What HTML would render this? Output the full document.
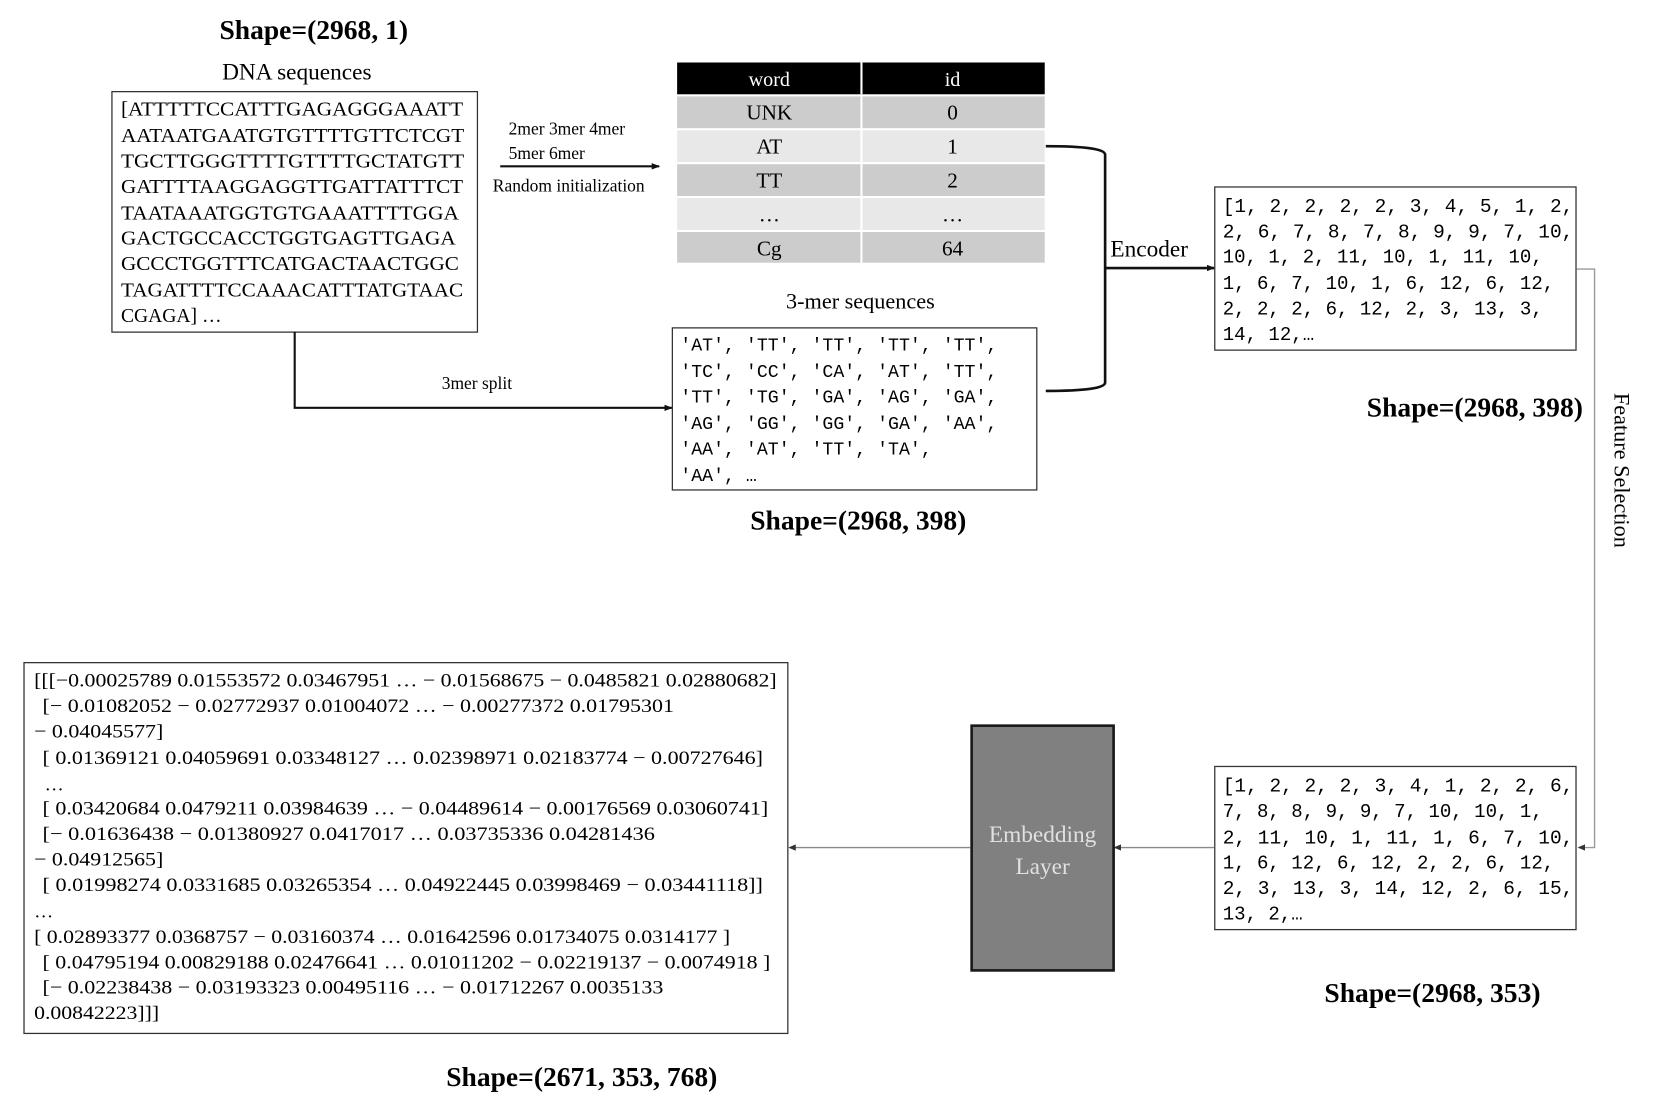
<!DOCTYPE html>
<html><head><meta charset="utf-8"><style>
html,body{margin:0;padding:0;background:#fff;}
svg{display:block;}
.s{font-family:"Liberation Serif",serif;}
.m{font-family:"Liberation Mono",monospace;}
</style></head><body>
<svg width="1653" height="1106" viewBox="0 0 1560 1044" xmlns="http://www.w3.org/2000/svg">
<defs>
<marker id="ah" markerWidth="8" markerHeight="8" refX="7" refY="4" orient="auto" markerUnits="userSpaceOnUse"><path d="M0,1 L8,4 L0,7 z" fill="#111"/></marker>
<marker id="ag" markerWidth="7" markerHeight="7" refX="6" refY="3.5" orient="auto" markerUnits="userSpaceOnUse"><path d="M0,0.5 L7,3.5 L0,6.5 z" fill="#333"/></marker>
</defs>
<rect width="1560" height="1044" fill="#fff"/>

<!-- top-left -->
<text class="s" x="296" y="37" font-size="26" font-weight="bold" text-anchor="middle">Shape=(2968, 1)</text>
<text class="s" x="280" y="75" font-size="22" text-anchor="middle">DNA sequences</text>
<rect x="105.5" y="86.5" width="345" height="227" fill="#fff" stroke="#333" stroke-width="1.2"/>
<g class="s" font-size="18.5">
<text x="114" y="109" textLength="323" lengthAdjust="spacingAndGlyphs">[ATTTTTCCATTTGAGAGGGAAATT</text>
<text x="114" y="134" textLength="324" lengthAdjust="spacingAndGlyphs">AATAATGAATGTGTTTTGTTCTCGT</text>
<text x="114" y="158" textLength="324" lengthAdjust="spacingAndGlyphs">TGCTTGGGTTTTGTTTTGCTATGTT</text>
<text x="114" y="182" textLength="323" lengthAdjust="spacingAndGlyphs">GATTTTAAGGAGGTTGATTATTTCT</text>
<text x="114" y="207" textLength="319" lengthAdjust="spacingAndGlyphs">TAATAAATGGTGTGAAATTTTGGA</text>
<text x="114" y="231" textLength="316" lengthAdjust="spacingAndGlyphs">GACTGCCACCTGGTGAGTTGAGA</text>
<text x="114" y="255" textLength="319" lengthAdjust="spacingAndGlyphs">GCCCTGGTTTCATGACTAACTGGC</text>
<text x="114" y="280" textLength="323" lengthAdjust="spacingAndGlyphs">TAGATTTTCCAAACATTTATGTAAC</text>
<text x="114" y="304">CGAGA] …</text>
</g>

<!-- kmer arrow -->
<g class="s" font-size="16.5">
<text x="480" y="127">2mer 3mer 4mer</text>
<text x="480" y="150">5mer 6mer</text>
<text x="465" y="181">Random initialization</text>
</g>
<line x1="472" y1="157" x2="622" y2="157" stroke="#111" stroke-width="2" marker-end="url(#ah)"/>

<!-- table -->
<rect x="639" y="59" width="347" height="30" fill="#000"/>
<line x1="813" y1="59" x2="813" y2="89" stroke="#fff" stroke-width="2"/>
<text class="s" x="726" y="81" font-size="19" fill="#fff" text-anchor="middle">word</text>
<text class="s" x="899" y="81" font-size="19" fill="#fff" text-anchor="middle">id</text>
<rect x="639" y="91" width="347" height="30" fill="#cccccc"/>
<rect x="639" y="123" width="347" height="30" fill="#e8e8e8"/>
<rect x="639" y="155" width="347" height="30" fill="#cccccc"/>
<rect x="639" y="187" width="347" height="30" fill="#e8e8e8"/>
<rect x="639" y="219" width="347" height="29" fill="#cccccc"/>
<line x1="813" y1="91" x2="813" y2="248" stroke="#fff" stroke-width="2"/>
<g class="s" font-size="20" text-anchor="middle">
<text x="726" y="113">UNK</text><text x="899" y="113">0</text>
<text x="726" y="145">AT</text><text x="899" y="145">1</text>
<text x="726" y="177">TT</text><text x="899" y="177">2</text>
<text x="726" y="209">…</text><text x="899" y="209">…</text>
<text x="726" y="241">Cg</text><text x="899" y="241">64</text>
</g>

<!-- bracket + encoder -->
<path d="M987,138 Q1043,138 1043,146 L1043,361 Q1043,369 987,369" fill="none" stroke="#111" stroke-width="2.5"/>
<line x1="1043" y1="253" x2="1146" y2="253" stroke="#111" stroke-width="2.5" marker-end="url(#ah)"/>
<text class="s" x="1048" y="242" font-size="22">Encoder</text>

<!-- 3-mer -->
<text class="s" x="812" y="291" font-size="21" text-anchor="middle">3-mer sequences</text>
<rect x="634.5" y="309.5" width="344" height="153" fill="#fff" stroke="#333" stroke-width="1.2"/>
<g class="m" font-size="17.2">
<text x="642" y="331">'AT', 'TT', 'TT', 'TT', 'TT',</text>
<text x="642" y="356">'TC', 'CC', 'CA', 'AT', 'TT',</text>
<text x="642" y="380">'TT', 'TG', 'GA', 'AG', 'GA',</text>
<text x="642" y="405">'AG', 'GG', 'GG', 'GA', 'AA',</text>
<text x="642" y="429">'AA', 'AT', 'TT', 'TA',</text>
<text x="642" y="454">'AA', …</text>
</g>
<text class="s" x="810" y="500" font-size="26" font-weight="bold" text-anchor="middle">Shape=(2968, 398)</text>

<!-- 3mer split -->
<polyline points="278,313 278,385 634,385" fill="none" stroke="#111" stroke-width="2" marker-end="url(#ah)"/>
<text class="s" x="450" y="367" font-size="16.5" text-anchor="middle">3mer split</text>

<!-- encoded box -->
<rect x="1146.5" y="176.5" width="341" height="154" fill="#fff" stroke="#333" stroke-width="1.2"/>
<g class="m" font-size="18">
<text x="1154" y="200" textLength="331" lengthAdjust="spacingAndGlyphs">[1, 2, 2, 2, 2, 3, 4, 5, 1, 2,</text>
<text x="1154" y="224" textLength="331" lengthAdjust="spacingAndGlyphs">2, 6, 7, 8, 7, 8, 9, 9, 7, 10,</text>
<text x="1154" y="248">10, 1, 2, 11, 10, 1, 11, 10,</text>
<text x="1154" y="273">1, 6, 7, 10, 1, 6, 12, 6, 12,</text>
<text x="1154" y="297">2, 2, 2, 6, 12, 2, 3, 13, 3,</text>
<text x="1154" y="321">14, 12,…</text>
</g>
<text class="s" x="1392" y="393" font-size="26" font-weight="bold" text-anchor="middle">Shape=(2968, 398)</text>

<!-- feature selection -->
<polyline points="1488,254 1505,254 1505,800 1490,800" fill="none" stroke="#999" stroke-width="1.3" marker-end="url(#ag)"/>
<text class="s" x="444" y="-1524" font-size="21" transform="rotate(90)" text-anchor="middle">Feature Selection</text>

<!-- box 2 -->
<rect x="1146.5" y="723.5" width="341" height="154" fill="#fff" stroke="#333" stroke-width="1.2"/>
<g class="m" font-size="18">
<text x="1154" y="747" textLength="331" lengthAdjust="spacingAndGlyphs">[1, 2, 2, 2, 3, 4, 1, 2, 2, 6,</text>
<text x="1154" y="771">7, 8, 8, 9, 9, 7, 10, 10, 1,</text>
<text x="1154" y="796" textLength="331" lengthAdjust="spacingAndGlyphs">2, 11, 10, 1, 11, 1, 6, 7, 10,</text>
<text x="1154" y="820">1, 6, 12, 6, 12, 2, 2, 6, 12,</text>
<text x="1154" y="844" textLength="331" lengthAdjust="spacingAndGlyphs">2, 3, 13, 3, 14, 12, 2, 6, 15,</text>
<text x="1154" y="868">13, 2,…</text>
</g>
<text class="s" x="1352" y="946" font-size="26" font-weight="bold" text-anchor="middle">Shape=(2968, 353)</text>

<!-- embedding layer -->
<line x1="1146" y1="800" x2="1052" y2="800" stroke="#888" stroke-width="1.3" marker-end="url(#ag)"/>
<rect x="917" y="685" width="134" height="231" fill="#808080" stroke="#1a1a1a" stroke-width="2.5"/>
<text class="s" x="984" y="795" font-size="22" fill="#e0e0e0" text-anchor="middle">Embedding</text>
<text class="s" x="984" y="825" font-size="22" fill="#e0e0e0" text-anchor="middle">Layer</text>
<line x1="916" y1="800" x2="745" y2="800" stroke="#888" stroke-width="1.3" marker-end="url(#ag)"/>

<!-- embedding output -->
<rect x="22.5" y="625.5" width="721" height="350" fill="#fff" stroke="#333" stroke-width="1.2"/>
<g class="s" font-size="18">
<text x="32" y="648" textLength="701" lengthAdjust="spacingAndGlyphs">[[[−0.00025789  0.01553572  0.03467951 … − 0.01568675 − 0.0485821 0.02880682]</text>
<text x="40" y="672" textLength="596" lengthAdjust="spacingAndGlyphs">[− 0.01082052 − 0.02772937  0.01004072 … − 0.00277372  0.01795301</text>
<text x="32" y="696" textLength="122" lengthAdjust="spacingAndGlyphs">− 0.04045577]</text>
<text x="40" y="721" textLength="680" lengthAdjust="spacingAndGlyphs">[ 0.01369121  0.04059691  0.03348127 …  0.02398971  0.02183774 − 0.00727646]</text>
<text x="42" y="746">…</text>
<text x="40" y="769" textLength="685" lengthAdjust="spacingAndGlyphs">[ 0.03420684  0.0479211   0.03984639 … − 0.04489614 − 0.00176569 0.03060741]</text>
<text x="40" y="793" textLength="578" lengthAdjust="spacingAndGlyphs">[− 0.01636438 − 0.01380927  0.0417017  …  0.03735336  0.04281436</text>
<text x="32" y="817" textLength="122" lengthAdjust="spacingAndGlyphs">− 0.04912565]</text>
<text x="40" y="841" textLength="680" lengthAdjust="spacingAndGlyphs">[ 0.01998274  0.0331685   0.03265354 …  0.04922445  0.03998469 − 0.03441118]]</text>
<text x="32" y="866">…</text>
<text x="32" y="890" textLength="657" lengthAdjust="spacingAndGlyphs">[ 0.02893377  0.0368757 − 0.03160374 …  0.01642596  0.01734075 0.0314177 ]</text>
<text x="40" y="914" textLength="687" lengthAdjust="spacingAndGlyphs">[ 0.04795194  0.00829188  0.02476641 …  0.01011202 − 0.02219137 − 0.0074918 ]</text>
<text x="40" y="938" textLength="586" lengthAdjust="spacingAndGlyphs">[− 0.02238438 − 0.03193323  0.00495116 … − 0.01712267  0.0035133</text>
<text x="32" y="962" textLength="118" lengthAdjust="spacingAndGlyphs">0.00842223]]]</text>
</g>
<text class="s" x="549" y="1025" font-size="26" font-weight="bold" text-anchor="middle">Shape=(2671, 353, 768)</text>
</svg>
</body></html>
